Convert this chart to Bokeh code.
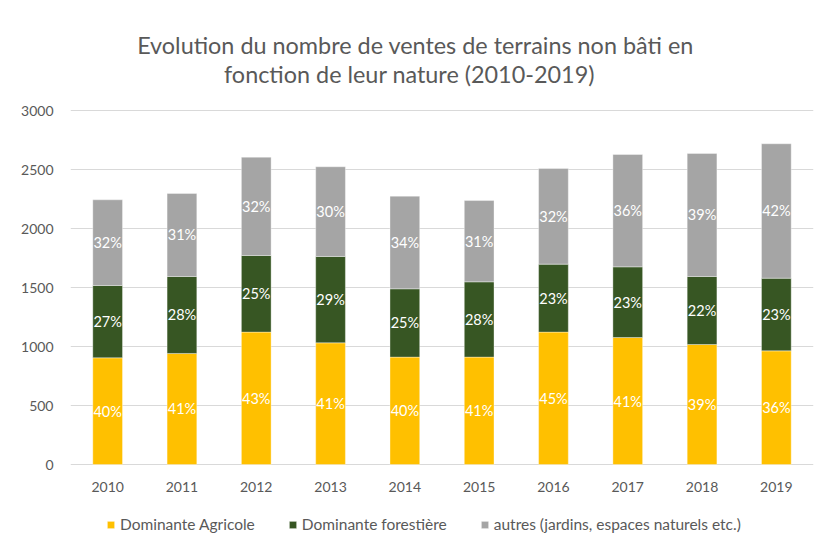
from bokeh.plotting import figure
from bokeh.models import (ColumnDataSource, FactorRange, Range1d, FixedTicker,
                          Legend, LegendItem, Label)
from bokeh.core.properties import value
from bokeh.embed import file_html
from bokeh.resources import INLINE

# ---- data ----
years = ["2010", "2011", "2012", "2013", "2014", "2015", "2016", "2017", "2018", "2019"]
agricole = [904, 941, 1122, 1031, 910, 910, 1122, 1076, 1017, 963]
forestiere = [613, 652, 649, 732, 579, 638, 576, 599, 576, 616]
autres = [726, 704, 833, 760, 785, 689, 810, 952, 1043, 1139]
pct_agricole = ["40%", "41%", "43%", "41%", "40%", "41%", "45%", "41%", "39%", "36%"]
pct_forestiere = ["27%", "28%", "25%", "29%", "25%", "28%", "23%", "23%", "22%", "23%"]
pct_autres = ["32%", "31%", "32%", "30%", "34%", "31%", "32%", "36%", "39%", "42%"]
series_names = ["Dominante Agricole", "Dominante forestière",
                "autres (jardins, espaces naturels etc.)"]
series_colors = ["#FFC000", "#375623", "#A5A5A5"]
y_ticks = [0, 500, 1000, 1500, 2000, 2500, 3000]
title_lines = ["Evolution du nombre de ventes de terrains non bâti en",
               "fonction de leur nature (2010-2019)"]

FONT = "Lato"
GREY_TXT = "#595959"

# layout (pixels): value axis 0 -> 3000 spans 354 px, 110 px of room above, 78 below
W, H = 823, 542
PX_TOP, PX_AXIS, PX_BOTTOM = 110, 354, 78
Y_MAX = 3000
units_per_px = Y_MAX / PX_AXIS
y_start = -PX_BOTTOM * units_per_px
y_end = Y_MAX + PX_TOP * units_per_px

src = ColumnDataSource(dict(years=years, agricole=agricole,
                            forestiere=forestiere, autres=autres))

# label positions (segment centres)
lx, ly, lt = [], [], []
for i, yr in enumerate(years):
    b = 0
    for vals, pcts in ((agricole, pct_agricole), (forestiere, pct_forestiere), (autres, pct_autres)):
        lx.append(yr)
        ly.append(b + vals[i] / 2)
        lt.append(pcts[i])
        b += vals[i]
lab_src = ColumnDataSource(dict(x=lx, y=ly, t=lt))

p = figure(x_range=FactorRange(*years), y_range=Range1d(y_start, y_end),
           width=W, height=H, output_backend="svg", toolbar_location=None,
           min_border_left=70, min_border_right=10, min_border_top=0,
           min_border_bottom=0, background_fill_color="white",
           border_fill_color="white", outline_line_color=None)

renderers = p.vbar_stack(["agricole", "forestiere", "autres"], x="years", width=0.4,
                         color=series_colors, line_color="#FFFFFF", line_width=0.6,
                         line_alpha=0.6, source=src)

p.text(x="x", y="y", text="t", source=lab_src, text_align="center",
       text_baseline="middle", text_color="white", text_font=value(FONT),
       text_font_size="14.5px")

# axes
p.yaxis.ticker = FixedTicker(ticks=y_ticks)
p.xaxis.fixed_location = 0
for ax in (p.xaxis[0], p.yaxis[0]):
    ax.axis_line_color = None
    ax.major_tick_line_color = None
    ax.minor_tick_line_color = None
    ax.major_label_text_font = FONT
    ax.major_label_text_font_size = "14px"
    ax.major_label_text_color = GREY_TXT
p.yaxis.major_label_standoff = 11
p.xaxis.major_label_standoff = 11

p.xgrid.grid_line_color = None
p.ygrid.grid_line_color = "#D9D9D9"
p.ygrid.grid_line_width = 1

# two-line title (screen units, from the frame's bottom-left corner)
for line, cx, cy in ((title_lines[0], 345, H - 44), (title_lines[1], 339, H - 73)):
    p.add_layout(Label(x=cx, y=cy, x_units="screen", y_units="screen", text=line,
                       text_align="center", text_baseline="middle",
                       text_font=FONT, text_font_size="23.4px",
                       text_color=GREY_TXT))

items = [LegendItem(label=n, renderers=[r]) for n, r in zip(series_names, renderers)]
legend = Legend(items=items, orientation="horizontal", location=(36, 9),
                glyph_width=9, glyph_height=9, label_standoff=5, spacing=33,
                padding=0, margin=0, border_line_color=None,
                background_fill_alpha=0, label_text_font=FONT,
                label_text_font_size="15.5px", label_text_color=GREY_TXT)
p.add_layout(legend, "center")

open("out.html", "w").write(file_html(p, INLINE))
